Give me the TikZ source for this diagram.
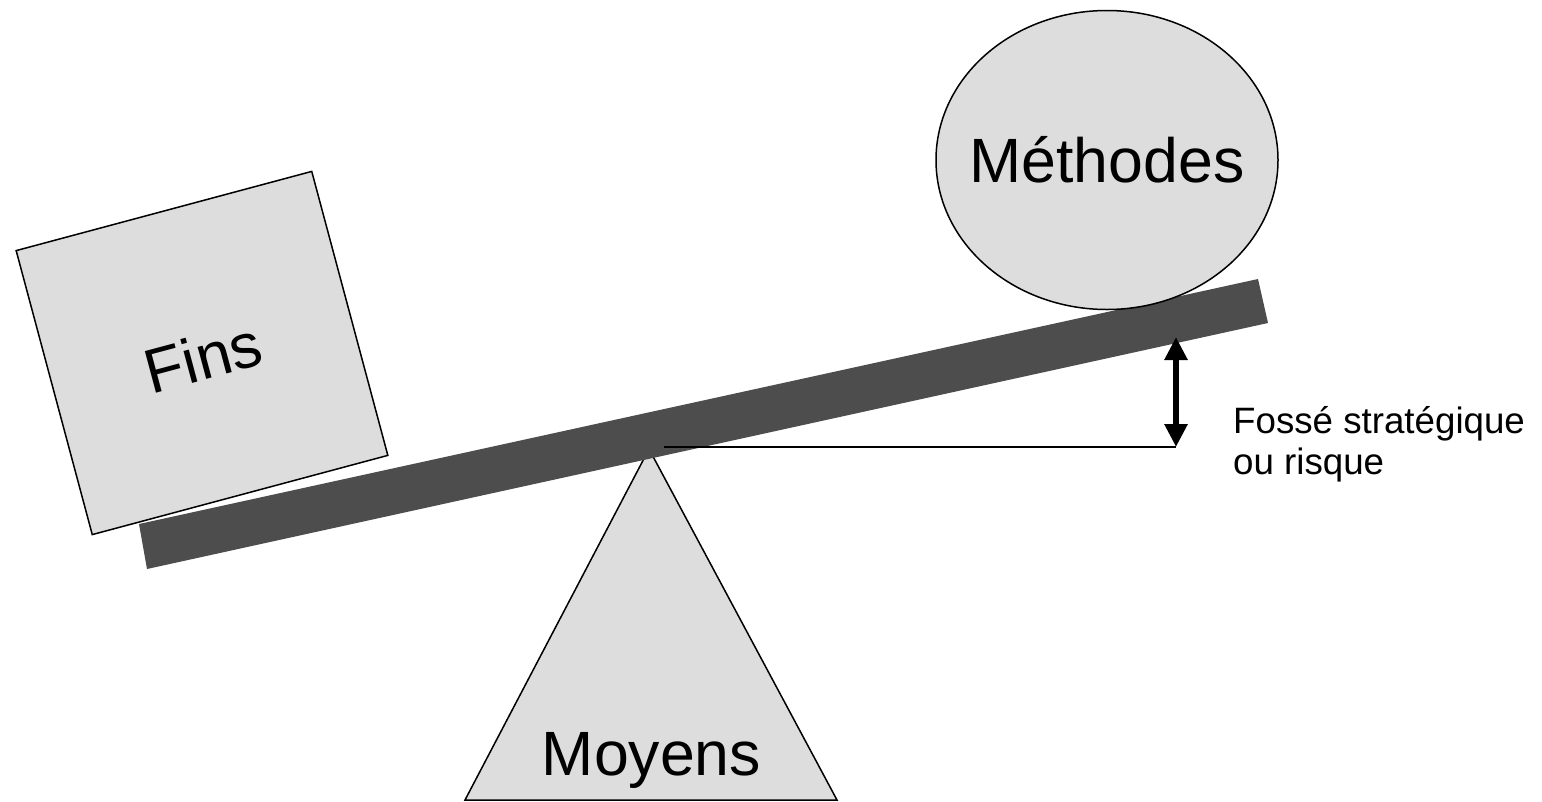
\documentclass[tikz,border=0pt]{standalone}
\usepackage{fontspec}
\setmainfont{Liberation Sans}
\usetikzlibrary{shapes.geometric,arrows.meta}
\definecolor{shapefill}{HTML}{DDDDDD}
\definecolor{beamgray}{HTML}{4D4D4D}
\tikzset{
  shapebox/.style={draw=black, line width=1.5pt, fill=shapefill, inner sep=0pt},
  bigtext/.style={font=\fontsize{62.6}{70}\selectfont, inner sep=0pt},
  smalltext/.style={font=\fontsize{36.7}{41.5}\selectfont, align=left, inner sep=0pt},
  gaparrow/.style={line width=6pt, {Triangle[width=22pt,length=23pt]}-{Triangle[width=22pt,length=23pt]}},
}
\begin{document}
\begin{tikzpicture}[x=1pt, y=-1pt]
\useasboundingbox (0,0) rectangle (1542,801);
% fulcrum (triangle)
\path[shapebox] (465,800) -- (649,449) -- (837,800) -- cycle;
\node[bigtext, anchor=base] (moyens) at (651.5,775) {Moyens};
% beam
\fill[beamgray] (139,524) -- (1258,279) -- (1268,323) -- (147,569) -- cycle;
% Fins box
\node[shapebox, rotate=15, minimum width=306pt, minimum height=294pt, bigtext, text height=54pt, text depth=0pt] (fins) at (202,353) {Fins};
% Méthodes ellipse
\node[shapebox, ellipse, minimum width=342pt, minimum height=299pt] (meth) at (1107,160) {};
\node[bigtext] (methtext) at (meth.center) {Méthodes};
% reference line and gap arrow
\coordinate (pivot) at (664,447);
\coordinate (gapbottom) at (1176,447);
\coordinate (gaptop) at (1176,337);
\draw[line width=2pt] (pivot) -- (gapbottom);
\draw[gaparrow] (gapbottom) -- (gaptop);
\node[smalltext, anchor=base west] (gap) at (1233,474.5) {Fossé stratégique\\ou risque};
\end{tikzpicture}
\end{document}
